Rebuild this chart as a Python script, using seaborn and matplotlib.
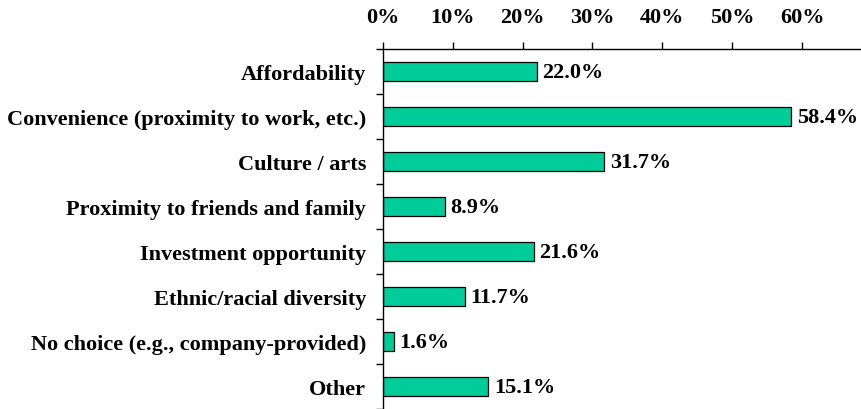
import numpy as np
import pandas as pd
import seaborn as sns
import matplotlib.pyplot as plt
from matplotlib.ticker import FixedLocator

# Reasons for choosing the neighborhood (share of respondents)
reasons = [
    "Affordability",
    "Convenience (proximity to work, etc.)",
    "Culture / arts",
    "Proximity to friends and family",
    "Investment opportunity",
    "Ethnic/racial diversity",
    "No choice (e.g., company-provided)",
    "Other",
]
shares = [22.0, 58.4, 31.7, 8.9, 21.6, 11.7, 1.6, 15.1]
pct_ticks = [0, 10, 20, 30, 40, 50, 60]

df = pd.DataFrame({"reason": reasons, "share": shares})

sns.set_style("white")
plt.rcParams["font.family"] = ["Liberation Serif", "DejaVu Serif"]
plt.rcParams["font.weight"] = "bold"
plt.rcParams["text.color"] = "black"
plt.rcParams["xtick.color"] = "black"
plt.rcParams["ytick.color"] = "black"

fig = plt.figure(figsize=(8.61, 4.10), dpi=100)
ax = fig.add_axes([0.4445, 0.0, 0.5555, 0.878])

sns.barplot(data=df, y="reason", x="share", orient="h", color="#00CC99",
            edgecolor="black", linewidth=0.9, width=0.43, saturation=1, ax=ax)

ax.set_xlim(0, 68.4)
ax.set_ylim(7.5, -0.5)
ax.xaxis.tick_top()
ax.set_xticks(pct_ticks)
ax.set_xticklabels([f"{t}%" for t in pct_ticks], fontsize=16, fontweight="bold")
ax.tick_params(axis="x", top=True, direction="out", length=5, width=1, pad=11, colors="black")

ax.yaxis.set_minor_locator(FixedLocator(np.arange(-0.5, len(reasons), 1)))
ax.tick_params(axis="y", which="major", left=True, length=0, pad=12, labelsize=16)
ax.tick_params(axis="y", which="minor", left=True, direction="out", length=5, width=1, color="black")
for lbl in ax.get_yticklabels():
    lbl.set_fontweight("bold")

ax.set_xlabel("")
ax.set_ylabel("")
for side in ["right", "bottom"]:
    ax.spines[side].set_visible(False)
for side in ["left", "top"]:
    ax.spines[side].set_color("black")
    ax.spines[side].set_linewidth(1)

ax.bar_label(ax.containers[0], fmt="%.1f%%", padding=4, fontsize=16, fontweight="bold")

fig.savefig("out.png", dpi=100)
